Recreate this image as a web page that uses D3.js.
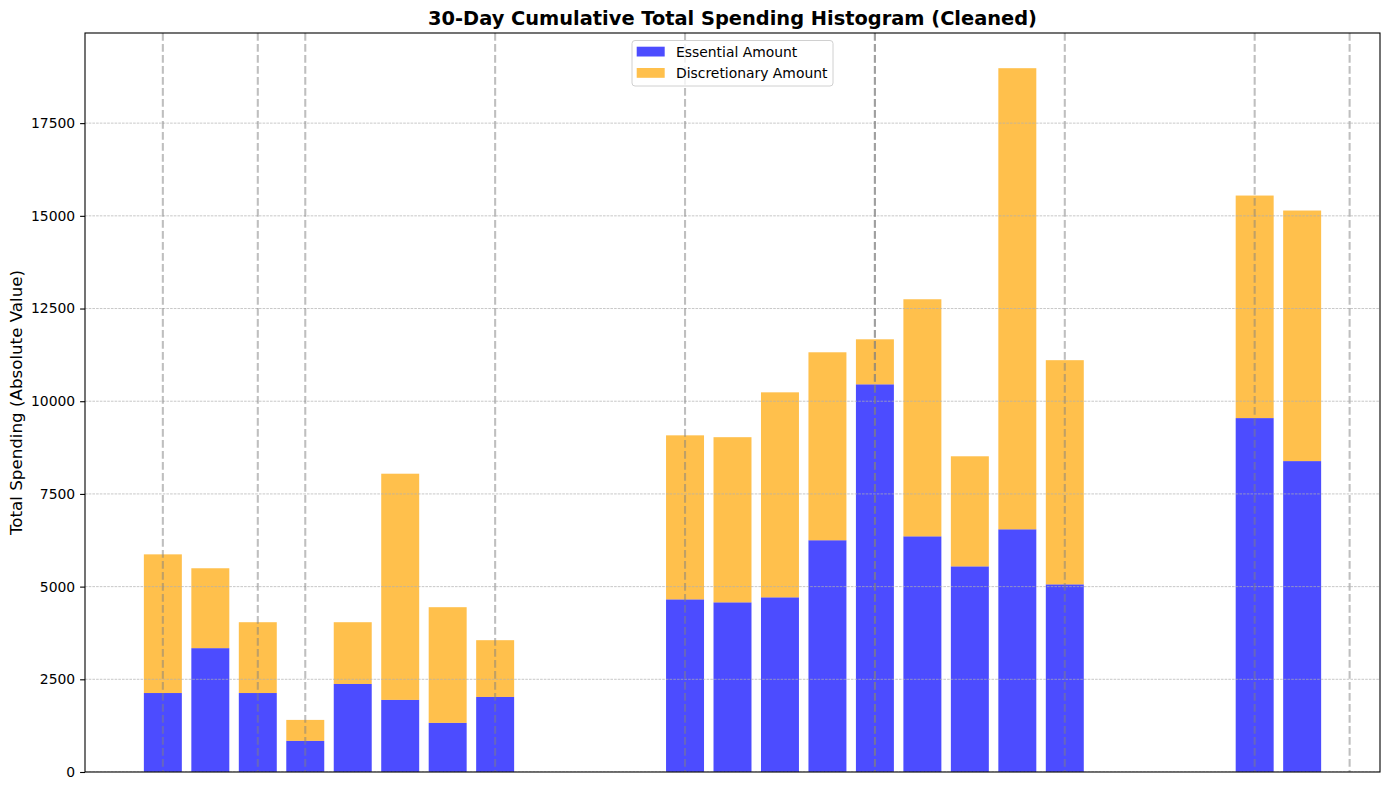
<!DOCTYPE html>
<html>
<head>
<meta charset="utf-8">
<script src="https://cdn.jsdelivr.net/npm/d3@7"></script>
<style>
  html, body { margin: 0; padding: 0; background: #fff; }
  svg { display: block; font-family: "DejaVu Sans", sans-serif; }
</style>
</head>
<body>
<svg id="chart" width="1389" height="790"></svg>
<script>
// ---- data ----
const days = [0, 1, 2, 3, 4, 5, 6, 7, 11, 12, 13, 14, 15, 16, 17, 18, 19, 23, 24];
const essentialAmount = [2130, 3340, 2130, 840, 2375, 1945, 1325, 2025, 4655, 4575, 4710, 6250, 10455, 6355, 5545, 6545, 5060, 9545, 8385];
const discretionaryAmount = [3740, 2155, 1910, 565, 1665, 6100, 3120, 1530, 4425, 4455, 5530, 5070, 1215, 6395, 2970, 12437, 6047, 6002, 6758];
const markerDays = [0, 2, 3, 7, 11, 15, 15, 19, 23, 25];
const yTicks = [0, 2500, 5000, 7500, 10000, 12500, 15000, 17500];
const seriesNames = ["Essential Amount", "Discretionary Amount"];
const seriesColors = ["blue", "orange"];

// ---- layout ----
const svg = d3.select("#chart");
const L = 85, R = 1380, T = 33, B = 772;
const barW = 0.8;

const rows = days.map((d, i) => ({ day: d, ess: essentialAmount[i], dis: discretionaryAmount[i] }));
const xmin = d3.min(days) - barW / 2, xmax = d3.max(days) + barW / 2;
const xm = (xmax - xmin) * 0.05;
const x = d3.scaleLinear().domain([xmin - xm, xmax + xm]).range([L, R]);
const ymaxData = d3.max(rows, r => r.ess + r.dis);
const y = d3.scaleLinear().domain([0, ymaxData * 1.05]).range([B, T]);

const clip = svg.append("defs").append("clipPath").attr("id", "clip")
  .append("rect").attr("x", L).attr("y", T).attr("width", R - L).attr("height", B - T);

const plot = svg.append("g").attr("clip-path", "url(#clip)");

// bars
const bw = x(barW) - x(0);
plot.append("g").selectAll("rect.ess").data(rows).join("rect")
  .attr("x", d => x(d.day) - bw / 2).attr("width", bw)
  .attr("y", d => y(d.ess)).attr("height", d => y(0) - y(d.ess))
  .attr("fill", seriesColors[0]).attr("fill-opacity", 0.7);
plot.append("g").selectAll("rect.dis").data(rows).join("rect")
  .attr("x", d => x(d.day) - bw / 2).attr("width", bw)
  .attr("y", d => y(d.ess + d.dis)).attr("height", d => y(d.ess) - y(d.ess + d.dis))
  .attr("fill", seriesColors[1]).attr("fill-opacity", 0.7);

// horizontal grid
plot.append("g").selectAll("line").data(yTicks).join("line")
  .attr("x1", L).attr("x2", R)
  .attr("y1", d => y(d)).attr("y2", d => y(d))
  .attr("stroke", "#b0b0b0").attr("stroke-width", 0.7)
  .attr("stroke-dasharray", "2.6,1.1");

// vertical dashed markers
plot.append("g").selectAll("line").data(markerDays).join("line")
  .attr("x1", d => x(d)).attr("x2", d => x(d))
  .attr("y1", T).attr("y2", B)
  .attr("stroke", "gray").attr("stroke-opacity", 0.5).attr("stroke-width", 2.08)
  .attr("stroke-dasharray", "7.7,3.3");

// y axis
const yAxis = d3.axisLeft(y).tickValues(yTicks).tickSize(4.9).tickPadding(4.9).tickFormat(d3.format("d"));
const ga = svg.append("g").attr("transform", `translate(${L},0)`).call(yAxis);
ga.select(".domain").remove();
ga.selectAll(".tick line").attr("stroke", "#000").attr("stroke-width", 1.1);
ga.selectAll(".tick text").attr("font-size", 13.9).attr("font-family", "DejaVu Sans").attr("fill", "#000");

// spines
svg.append("rect").attr("x", L).attr("y", T).attr("width", R - L).attr("height", B - T)
  .attr("fill", "none").attr("stroke", "#000").attr("stroke-width", 1.1);

// title
svg.append("text").attr("x", (L + R) / 2).attr("y", 25)
  .attr("text-anchor", "middle").attr("font-size", 19.4).attr("font-weight", "bold")
  .text("30-Day Cumulative Total Spending Histogram (Cleaned)");

// y label
svg.append("text").attr("transform", `translate(22,${(T + B) / 2}) rotate(-90)`)
  .attr("text-anchor", "middle").attr("font-size", 16.7)
  .text("Total Spending (Absolute Value)");

// legend
const lg = svg.append("g");
lg.append("rect").attr("x", 632).attr("y", 40.5).attr("width", 201).attr("height", 45.5)
  .attr("rx", 3).attr("fill", "#fff").attr("fill-opacity", 0.8)
  .attr("stroke", "#d0d0d0").attr("stroke-width", 1);
seriesNames.forEach((name, i) => {
  const yy = 46.7 + i * 21.3;
  lg.append("rect").attr("x", 636.7).attr("y", yy).attr("width", 28).attr("height", 9.8)
    .attr("fill", seriesColors[i]).attr("fill-opacity", 0.7);
  lg.append("text").attr("x", 676).attr("y", yy + 10).attr("font-size", 13.9).text(name);
});
</script>
</body>
</html>
